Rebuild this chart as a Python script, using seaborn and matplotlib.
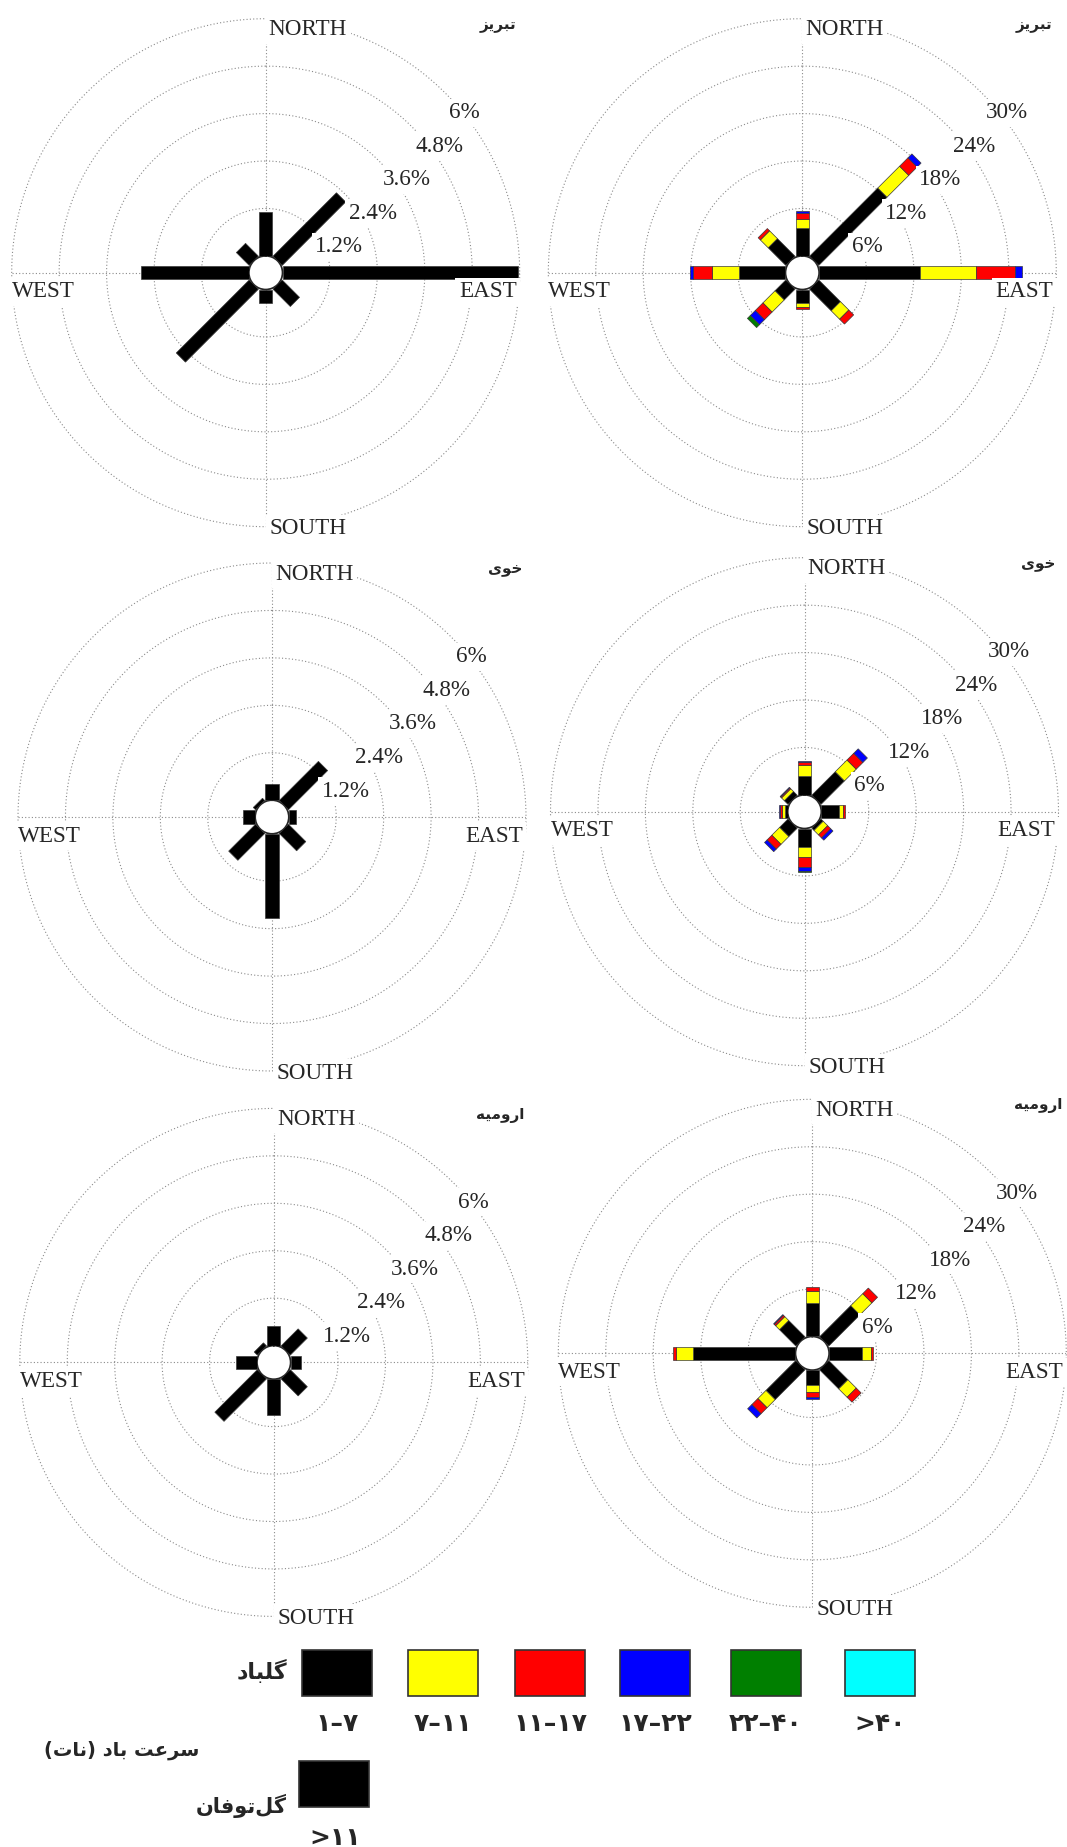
import numpy as np
import matplotlib
matplotlib.use('Agg')
import matplotlib.pyplot as plt
from matplotlib.patches import Polygon, Rectangle
import seaborn as sns

# ---------------- data ----------------
directions = ['N', 'NE', 'E', 'SE', 'S', 'SW', 'W', 'NW']
stations = ['تبریز', 'خوی', 'ارومیه']
compass = ['NORTH', 'EAST', 'SOUTH', 'WEST']

storm_ticks = [1.2, 2.4, 3.6, 4.8, 6.0]
storm_tick_labels = ['1.2%', '2.4%', '3.6%', '4.8%', '6%']
wind_ticks = [6, 12, 18, 24, 30]
wind_tick_labels = ['6%', '12%', '18%', '24%', '30%']

speed_bins = ['۱–۷', '۷–۱۱', '۱۱–۱۷', '۱۷–۲۲', '۲۲–۴۰', '>۴۰']
storm_bin = '>۱۱'
legend_wind = 'گلباد'
legend_storm = 'گل\u200cتوفان'
legend_speed = 'سرعت باد (نات)'

# storm roses (>11 knots), percent per direction N..NW
tabriz_storm = [1.10, 2.27, 5.95, 0.62, 0.33, 2.61, 2.73, 0.46]
khoy_storm = [0.42, 1.40, 0.18, 0.62, 2.12, 0.96, 0.30, 0.08]
urmia_storm = [0.49, 0.61, 0.26, 0.61, 0.90, 1.52, 0.54, 0.11]

# wind roses, percent per direction N..NW for each speed class
tabriz_1_7 = [3.50, 12.2, 12.8, 3.87, 1.76, 1.93, 5.85, 3.15]
tabriz_7_11 = [1.15, 3.9, 7.0, 1.50, 0.42, 2.17, 3.50, 1.40]
tabriz_11_17 = [0.75, 1.5, 5.0, 0.87, 0.30, 1.37, 2.30, 0.40]
tabriz_17_22 = [0.30, 0.7, 0.9, 0.00, 0.00, 0.90, 0.40, 0.00]
tabriz_22_40 = [0.00, 0.0, 0.0, 0.00, 0.00, 0.50, 0.00, 0.00]
tabriz_40 = [0, 0, 0, 0, 0, 0, 0, 0]

khoy_1_7 = [2.40, 4.2, 2.18, 0.40, 2.30, 1.50, 0.32, 0.66]
khoy_7_11 = [1.40, 2.1, 0.55, 0.80, 1.30, 1.40, 0.42, 0.50]
khoy_11_17 = [0.30, 1.2, 0.22, 0.55, 1.25, 0.85, 0.26, 0.15]
khoy_17_22 = [0.20, 0.8, 0.00, 0.40, 0.50, 0.45, 0.12, 0.10]
khoy_22_40 = [0.00, 0.0, 0.00, 0.00, 0.20, 0.00, 0.00, 0.00]
khoy_40 = [0, 0, 0, 0, 0, 0, 0, 0]

urmia_1_7 = [4.20, 5.57, 4.10, 3.42, 1.88, 5.34, 13.0, 2.92]
urmia_7_11 = [1.60, 2.15, 1.15, 1.50, 0.85, 1.45, 2.05, 0.70]
urmia_11_17 = [0.42, 1.00, 0.35, 0.87, 0.63, 1.08, 0.50, 0.25]
urmia_17_22 = [0.00, 0.00, 0.00, 0.00, 0.30, 0.75, 0.00, 0.10]
urmia_22_40 = [0, 0, 0, 0, 0, 0, 0, 0]
urmia_40 = [0, 0, 0, 0, 0, 0, 0, 0]

# ---------------- style ----------------
sns.set_theme(style='white')
plt.rcParams['font.family'] = ['Liberation Serif', 'DejaVu Sans']
speed_colors = sns.color_palette(['#000000', '#ffff00', '#ff0000', '#0000ff', '#007f00', '#00ffff'])

W_PX, H_PX = 1067, 1847
fig = plt.figure(figsize=(W_PX / 100, H_PX / 100), dpi=100)
fig.patch.set_facecolor('white')

R_PX = 254.0      # outer ring radius in px
HOLE_PX = 16.8    # calm hole radius
STEP_PX = 47.4    # px between rings
HALF_W_PX = 6.5   # half bar width
GRID = dict(color='#8a8a8a', lw=0.8, ls=(0, (1, 2)))
SERIF = 16.7

# Arabic-script shaping (presentation forms) for display
FORMS = {
    'ا': ('\uFE8D', '\uFE8E', None, None), 'د': ('\uFEA9', '\uFEAA', None, None),
    'ر': ('\uFEAD', '\uFEAE', None, None), 'ز': ('\uFEAF', '\uFEB0', None, None),
    'و': ('\uFEED', '\uFEEE', None, None),
    'ب': ('\uFE8F', '\uFE90', '\uFE91', '\uFE92'), 'ت': ('\uFE95', '\uFE96', '\uFE97', '\uFE98'),
    'خ': ('\uFEA5', '\uFEA6', '\uFEA7', '\uFEA8'), 'س': ('\uFEB1', '\uFEB2', '\uFEB3', '\uFEB4'),
    'ع': ('\uFEC9', '\uFECA', '\uFECB', '\uFECC'), 'ف': ('\uFED1', '\uFED2', '\uFED3', '\uFED4'),
    'ل': ('\uFEDD', '\uFEDE', '\uFEDF', '\uFEE0'), 'م': ('\uFEE1', '\uFEE2', '\uFEE3', '\uFEE4'),
    'ن': ('\uFEE5', '\uFEE6', '\uFEE7', '\uFEE8'), 'ه': ('\uFEE9', '\uFEEA', '\uFEEB', '\uFEEC'),
    'ی': ('\uFBFC', '\uFBFD', '\uFBFE', '\uFBFF'), 'گ': ('\uFB92', '\uFB93', '\uFB94', '\uFB95'),
}


def shape(s):
    out = []
    for i, ch in enumerate(s):
        f = FORMS.get(ch)
        if f is None:
            out.append(ch)
            continue
        prev = s[i - 1] if i > 0 else None
        nxt = s[i + 1] if i < len(s) - 1 else None
        jp = prev in FORMS and FORMS[prev][2] is not None
        jn = nxt in FORMS and f[2] is not None
        if jp and jn:
            out.append(f[3])
        elif jp:
            out.append(f[1])
        elif jn:
            out.append(f[2])
        else:
            out.append(f[0])
    vis = ''.join(reversed(out)).replace('\u200c', '')
    mirror = {'(': ')', ')': '('}
    return ''.join(mirror.get(c, c) for c in vis)


def add_bar(ax, theta, r0, r1, hw, rorig, color):
    pts = []
    for rho, sgn in [(r0 - rorig, -1), (r1 - rorig, -1), (r1 - rorig, 1), (r0 - rorig, 1)]:
        rr = np.hypot(rho, hw)
        dth = sgn * np.arctan2(hw, rho)
        pts.append((theta + dth, rr + rorig))
    ax.add_patch(Polygon(pts, closed=True, facecolor=color, edgecolor='#3a3a3a',
                         lw=0.5, zorder=3))


def draw_rose(center, layers, colors, ticks, tick_labels, title):
    cx, cy = center
    ax = fig.add_axes([(cx - R_PX) / W_PX, (H_PX - cy - R_PX) / H_PX,
                       2 * R_PX / W_PX, 2 * R_PX / H_PX], projection='polar')
    unit = STEP_PX / ticks[0]           # px per percent
    rorig = -HOLE_PX / unit
    hw = HALF_W_PX / unit
    ax.set_theta_zero_location('N')
    ax.set_theta_direction(-1)
    ax.set_ylim(0, ticks[-1])
    ax.set_rorigin(rorig)
    ax.set_xticks([])
    ax.set_yticks([])
    ax.grid(False)
    for sp in ax.spines.values():
        sp.set_visible(False)
    th = np.linspace(0, 2 * np.pi, 721)
    for t in ticks:
        ax.plot(th, np.full_like(th, t), clip_on=False, zorder=1, **GRID)
    ax.plot([0, 1], [0.5, 0.5], transform=ax.transAxes, zorder=1, **GRID)
    ax.plot([0.5, 0.5], [0, 1], transform=ax.transAxes, zorder=1, **GRID)
    for i, d in enumerate(directions):
        theta = np.deg2rad(45 * i)
        cum = 0.0
        for vals, col in zip(layers, colors):
            v = vals[i]
            if v > 0:
                add_bar(ax, theta, cum, cum + v, hw, rorig, col)
                cum += v
    box = dict(boxstyle='square,pad=0.15', fc='white', ec='none')
    for t, lab in zip(ticks, tick_labels):
        ax.annotate(lab, xy=(np.pi / 4, t), xytext=(3, -18), textcoords='offset points',
                    ha='left', va='baseline', fontsize=SERIF, bbox=box, zorder=6,
                    annotation_clip=False)
    ax.text(0.506, 0.999, compass[0], transform=ax.transAxes, ha='left', va='top',
            fontsize=SERIF, bbox=box, zorder=6)
    ax.text(0.994, 0.483, compass[1], transform=ax.transAxes, ha='right', va='top',
            fontsize=SERIF, bbox=box, zorder=6)
    ax.text(0.508, -0.004, compass[2], transform=ax.transAxes, ha='left', va='center',
            fontsize=SERIF, bbox=box, zorder=6)
    ax.text(0.0, 0.483, compass[3], transform=ax.transAxes, ha='left', va='top',
            fontsize=SERIF, bbox=box, zorder=6)
    ax.text(0.993, 0.987, shape(title), transform=ax.transAxes, ha='right', va='center',
            fontsize=11, fontweight='bold', family=['DejaVu Sans'], zorder=6)
    return ax


black_only = [speed_colors[0]]
draw_rose((265.7, 272.7), [tabriz_storm], black_only, storm_ticks, storm_tick_labels, stations[0])
draw_rose((802.3, 272.7), [tabriz_1_7, tabriz_7_11, tabriz_11_17, tabriz_17_22, tabriz_22_40, tabriz_40],
          speed_colors, wind_ticks, wind_tick_labels, stations[0])
draw_rose((272.0, 817.0), [khoy_storm], black_only, storm_ticks, storm_tick_labels, stations[1])
draw_rose((804.5, 811.7), [khoy_1_7, khoy_7_11, khoy_11_17, khoy_17_22, khoy_22_40, khoy_40],
          speed_colors, wind_ticks, wind_tick_labels, stations[1])
draw_rose((273.8, 1362.4), [urmia_storm], black_only, storm_ticks, storm_tick_labels, stations[2])
draw_rose((812.3, 1353.3), [urmia_1_7, urmia_7_11, urmia_11_17, urmia_17_22, urmia_22_40, urmia_40],
          speed_colors, wind_ticks, wind_tick_labels, stations[2])

# ---------------- legend ----------------
axl = fig.add_axes([0, 0, 1, 1])
axl.set_xlim(0, W_PX)
axl.set_ylim(H_PX, 0)
axl.axis('off')
axl.patch.set_alpha(0)
sw_x = [337, 443, 550, 655, 766, 880]
for xc, col, lab in zip(sw_x, speed_colors, speed_bins):
    axl.add_patch(Rectangle((xc - 35, 1650), 70, 46, facecolor=col, edgecolor='#333333', lw=1.2))
    axl.text(xc, 1724, lab, ha='center', va='center', fontsize=18, fontweight='bold',
             family=['DejaVu Sans'])
axl.add_patch(Rectangle((334 - 35, 1761), 70, 46, facecolor=speed_colors[0], edgecolor='#333333', lw=1.2))
axl.text(335, 1826, storm_bin, ha='center', va='top', fontsize=18, fontweight='bold',
         family=['DejaVu Sans'])
axl.text(287, 1671, shape(legend_wind), ha='right', va='center', fontsize=16,
         fontweight='bold', family=['DejaVu Sans'])
axl.text(122, 1750, shape(legend_speed), ha='center', va='center', fontsize=14,
         fontweight='bold', family=['DejaVu Sans'])
axl.text(287, 1806, shape(legend_storm), ha='right', va='center', fontsize=15,
         fontweight='bold', family=['DejaVu Sans'])

fig.savefig('out.png', dpi=100, facecolor='white')
